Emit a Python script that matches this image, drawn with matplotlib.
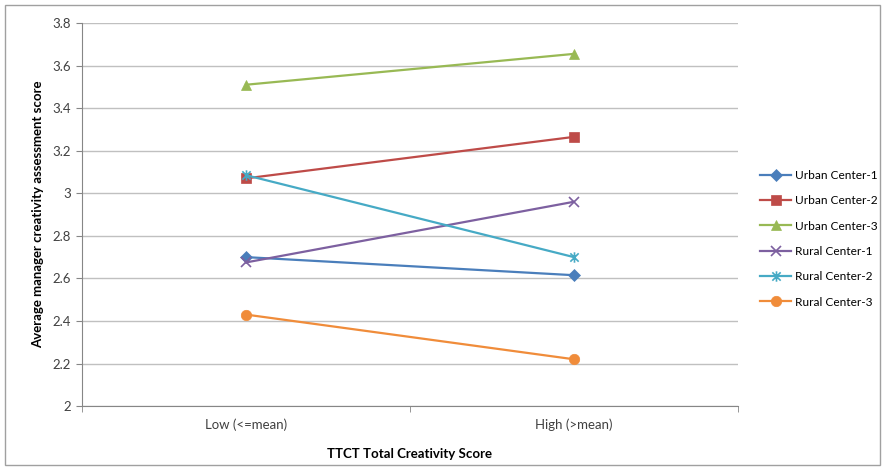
import numpy as np
import matplotlib
matplotlib.use('Agg')
import matplotlib.pyplot as plt
from matplotlib.path import Path

plt.rcParams['font.family'] = ['Lato', 'DejaVu Sans']

# Dados: média da avaliação do gestor por grupo de criatividade TTCT
categorias = ['Low (<=mean)', 'High (>mean)']
centros = ['Urban Center-1', 'Urban Center-2', 'Urban Center-3',
           'Rural Center-1', 'Rural Center-2', 'Rural Center-3']
urban_1 = [2.70, 2.615]
urban_2 = [3.07, 3.265]
urban_3 = [3.51, 3.655]
rural_1 = [2.675, 2.96]
rural_2 = [3.085, 2.70]
rural_3 = [2.43, 2.22]
y_ticks = [2, 2.2, 2.4, 2.6, 2.8, 3, 3.2, 3.4, 3.6, 3.8]

# marcador estrela (X com traço vertical), estilo Excel
estrela = Path([(-1, -1), (1, 1), (-1, 1), (1, -1), (0, -1.25), (0, 1.25)],
               [Path.MOVETO, Path.LINETO, Path.MOVETO, Path.LINETO, Path.MOVETO, Path.LINETO])

series = [urban_1, urban_2, urban_3, rural_1, rural_2, rural_3]
cores = ['#4A7EBB', '#BE4B48', '#98B954', '#7D60A0', '#46AAC5', '#F08C3A']
marcadores = ['D', 's', '^', 'x', estrela, 'o']
tamanhos = [6, 6.5, 7.5, 7.5, 7.5, 7.5]

fig = plt.figure(figsize=(8.85, 4.70), dpi=100)
ax = fig.add_axes([0.0927, 0.136, 0.741, 0.815])

x = np.arange(len(categorias)) + 0.5
for vals, nome, cor, m, ms in zip(series, centros, cores, marcadores, tamanhos):
    ax.plot(x, vals, color=cor, lw=1.6, marker=m, markersize=ms,
            markeredgewidth=1.2 if m in ('x',) or m is estrela else 0.5,
            markeredgecolor=cor, markerfacecolor=cor, label=nome)

ax.set_xlim(0, 2)
ax.set_ylim(2, 3.8)
ax.set_yticks(y_ticks)
ax.set_yticklabels([f'{v:g}' for v in y_ticks])
ax.set_xticks(x)
ax.set_xticklabels(categorias)
ax.set_xticks([0, 1, 2], minor=True)
ax.tick_params(axis='x', which='major', length=0, pad=9, labelsize=9.5, colors='#404040')
ax.tick_params(axis='x', which='minor', length=4, color='#868686')
ax.tick_params(axis='y', length=4, color='#868686', labelsize=9.5, labelcolor='#404040', pad=4)

ax.grid(axis='y', color='#C0C0C0', lw=1)
ax.set_axisbelow(True)
for lado in ['top', 'right']:
    ax.spines[lado].set_visible(False)
for lado in ['left', 'bottom']:
    ax.spines[lado].set_color('#868686')

ax.set_xlabel('TTCT Total Creativity Score', fontsize=9.5, fontweight='bold', labelpad=12)
ax.set_ylabel('Average manager creativity assessment score', fontsize=9.5, fontweight='bold', labelpad=6)

ax.legend(loc='center left', bbox_to_anchor=(1.027, 0.437), frameon=False, fontsize=8.6,
          handlelength=2.6, labelspacing=1.2, handletextpad=0.3, borderaxespad=0)

# moldura cinza ao redor da figura
fig.patches.append(plt.Rectangle((0.006, 0.01), 0.988, 0.98, transform=fig.transFigure,
                                 fill=False, edgecolor='#A0A0A0', lw=1))

plt.savefig('out.png', dpi=100)
